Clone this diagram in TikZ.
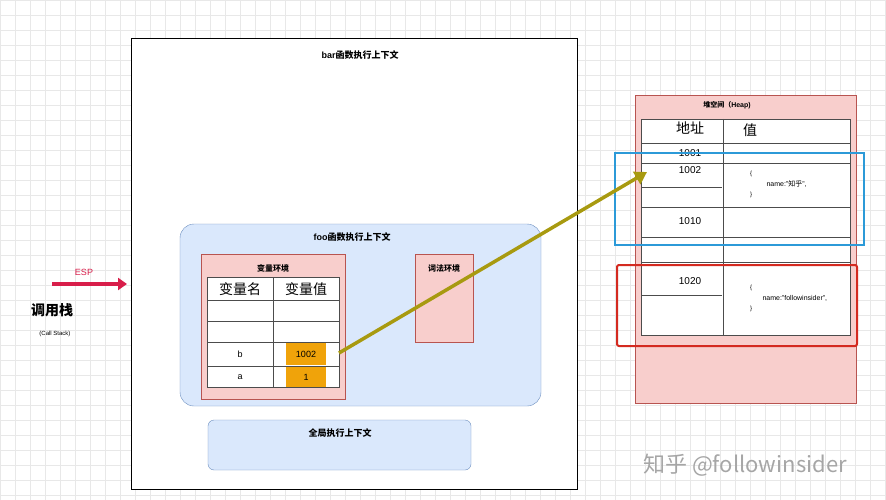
\documentclass[tikz,border=0pt]{standalone}
\usepackage{fontspec}
\setmainfont{Liberation Sans}
\newfontfamily\cjk{Noto Sans CJK SC}
\usetikzlibrary{positioning,arrows.meta}
\definecolor{blueFill}{HTML}{DAE8FC}
\definecolor{blueLine}{HTML}{6C8EBF}
\definecolor{pinkFill}{HTML}{F8CECC}
\definecolor{pinkLine}{HTML}{B85450}
\definecolor{orangeFill}{HTML}{F0A30A}
\definecolor{oliveLine}{HTML}{A89A10}
\definecolor{espRed}{HTML}{D81E4A}
\definecolor{selBlue}{HTML}{2C9AD8}
\definecolor{selRed}{HTML}{D42A20}
\newcommand{\fs}[1]{\fontsize{#1}{#1}\selectfont}
\begin{document}
\begin{tikzpicture}[x=1pt,y=-1pt,
    title/.style = {font=\fs{9}\bfseries},
    cell/.style = {font=\fs{9}},
    head/.style = {font=\fs{14}\cjk},
    box/.style = {draw=pinkLine,fill=pinkFill},
    ctx/.style = {draw=blueLine,fill=blueFill,rounded corners=14pt},
    grid line/.style = {draw=black!9,line width=0.5pt},
    arrow/.style = {line width=3.5pt,oliveLine,-{Triangle[length=12pt,width=14pt]}}]
    \useasboundingbox (0,0) rectangle (886,500);
    \fill[white] (0,0) rectangle (886,500);
    \foreach \x in {0,15,...,885} \draw[grid line] (\x,0) -- (\x,500);
    \foreach \y in {0,15,...,499} \draw[grid line] (0,\y) -- (886,\y);

    % bar context
    \draw[fill=white] (131,38) rectangle (577,489);
    \node[title] (bar) at (360,55) {bar{\cjk 函数执行上下文}};

    % foo context
    \draw[ctx] (180,224) rectangle (541,406);
    \node[title] (foo) at (352,237) {foo{\cjk 函数执行上下文}};
    \draw[box] (201,254) rectangle (345,399);
    \node[font=\fs{8}\cjk\bfseries] (varenv) at (273,268) {变量环境};
    \draw[box] (415,254) rectangle (473,342);
    \node[font=\fs{8}\cjk\bfseries] (lexenv) at (444,268) {词法环境};

    % variable table
    \fill[white] (207,277) rectangle (339,387);
    \fill[orangeFill] (286,343) rectangle (326,365);
    \fill[orangeFill] (286,367) rectangle (326,387);
    \draw[black!70] (207,277) rectangle (339,387);
    \foreach \y in {300,321,342,366} \draw[black!70] (207,\y) -- (339,\y);
    \draw[black!70] (273,277) -- (273,387);
    \node[head] (vname) at (240,289) {变量名};
    \node[head] (vval) at (306,289) {变量值};
    \node[cell] (bname) at (240,354) {b};
    \node[cell] (aname) at (240,377) {a};
    \node[cell] (bval) at (306,354) {1002};
    \node[cell] (aval) at (306,377) {1};
    \coordinate (bout) at (339,353);

    % global context
    \draw[ctx,rounded corners=6pt] (208,420) rectangle (471,470);
    \node[title,font=\fs{9}\cjk\bfseries] (global) at (340,433) {全局执行上下文};

    % call stack
    \node[font=\fs{9},espRed] (esp) at (84,272) {ESP};
    \coordinate (espstart) at (52,284);
    \coordinate (espend) at (127,284);
    \draw[espRed,line width=3.2pt,-{Triangle[length=9pt,width=12pt]}] (espstart) -- (espend);
    \node[font=\fs{14}\cjk\bfseries] (stack) at (52,310) {调用栈};
    \node[font=\fs{6}] (stacken) at (55,334) {(Call Stack)};

    % heap
    \draw[box] (635,95) rectangle (856,403);
    \node[font=\fs{7}\bfseries] (heap) at (727,105) {{\cjk 堆空间（}Heap)};
    \fill[white] (641,119) rectangle (850,335);
    \draw[black!70] (641,119) rectangle (850,335);
    \draw[black!70] (723,119) -- (723,335);
    \foreach \y in {143,163,207,237,262} \draw[black!70] (641,\y) -- (850,\y);
    \foreach \y in {187,295} \draw[black!70] (641,\y) -- (722,\y);
    \node[head] (addr) at (690,128) {地址};
    \node[head] (value) at (750,130) {值};
    \node[font=\fs{10}] (a1001) at (690,153) {1001};
    \node[font=\fs{10}] (a1002) at (690,170) {1002};
    \node[font=\fs{10}] (a1010) at (690,221) {1010};
    \node[font=\fs{10}] (a1020) at (690,281) {1020};
    \node[font=\fs{6}] (lb1) at (751,174) {\{};
    \node[font=\fs{7},anchor=west] (v1002) at (763,184) {name:"{\cjk 知乎}",};
    \node[font=\fs{6}] (rb1) at (751,195) {\}};
    \node[font=\fs{6}] (lb2) at (751,288) {\{};
    \node[font=\fs{7},anchor=west] (v1020) at (759,298) {name:"followinsider",};
    \node[font=\fs{6}] (rb2) at (751,309) {\}};
    \coordinate (heapin) at (647,172);

    % selections
    \draw[selBlue,line width=2pt] (615,153) rectangle (864,245);
    \draw[selRed,line width=2pt,rounded corners=2pt] (617,265) rectangle (857,346);

    % pointer
    \draw[arrow] (bout) -- (heapin);

    \node[font=\fs{22}\cjk,black!35] (mark) at (745,465) {知乎 @followinsider};
\end{tikzpicture}
\end{document}
